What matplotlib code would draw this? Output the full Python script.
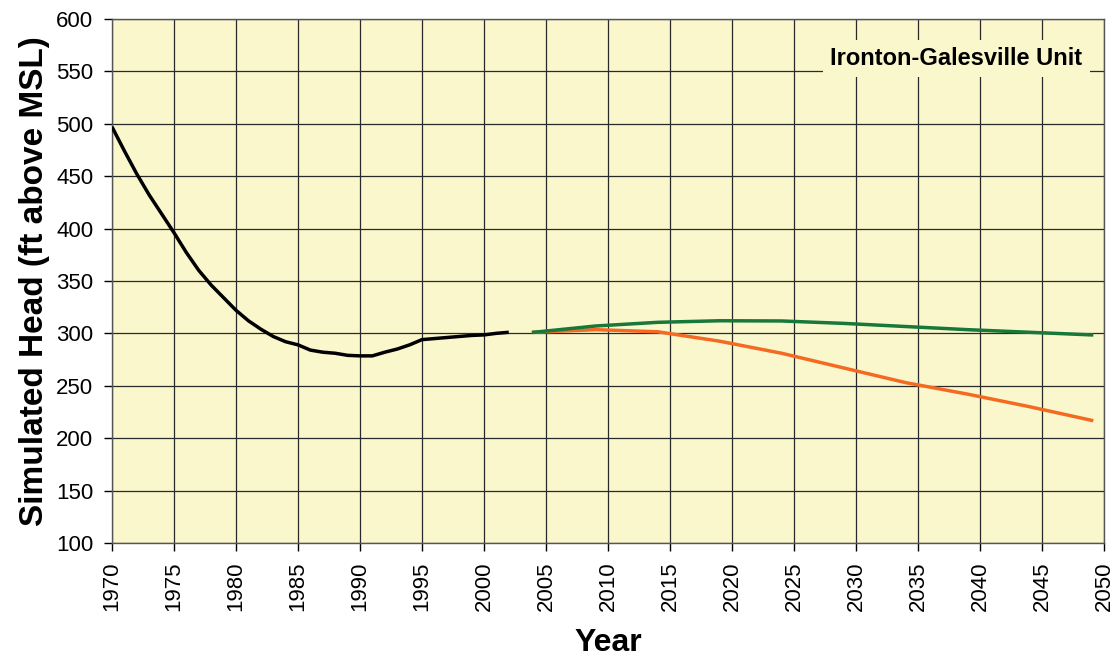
import matplotlib
matplotlib.use("Agg")
import matplotlib.pyplot as plt

plt.rcParams['font.family'] = ['Liberation Sans', 'DejaVu Sans']

# Historical simulated head, annual
hist_years = list(range(1970, 2003))
hist_head = [497, 474, 452, 432, 414, 396, 377, 360, 346, 334, 322, 312, 304,
             297, 292, 289, 284, 282, 281, 279, 278.5, 278.5, 282, 285, 289,
             294, 295, 296, 297, 298, 298.5, 300, 301]

# Projected scenarios, 5-year steps
proj_years = [2004, 2009, 2014, 2019, 2024, 2029, 2034, 2039, 2044, 2049]
proj_green = [301, 307, 310.5, 312, 311.8, 309.5, 306.5, 303.5, 301, 298.5]
proj_orange = [301, 303.5, 301.5, 292.5, 281, 267, 253, 242, 230, 217]

x_ticks = list(range(1970, 2051, 5))
y_ticks = list(range(100, 601, 50))

fig = plt.figure(figsize=(11.2, 6.66), dpi=100)
ax = fig.add_axes([0.1, 0.1847, 0.8857, 0.787])
ax.set_facecolor('#FAF7CD')

ax.plot(hist_years, hist_head, color='black', lw=2.5, solid_capstyle='butt', zorder=3)
ax.plot(proj_years, proj_orange, color='#F56A22', lw=2.5, zorder=3)
ax.plot(proj_years, proj_green, color='#17783A', lw=2.5, zorder=4)

ax.set_xlim(1970, 2050)
ax.set_ylim(100, 600)
ax.set_xticks(x_ticks)
ax.set_yticks(y_ticks)
ax.set_xticklabels([str(t) for t in x_ticks], rotation=90, fontsize=16)
ax.set_yticklabels([str(t) for t in y_ticks], fontsize=16)
ax.tick_params(direction='out', length=5.5, width=1, colors='black', pad=8)
ax.grid(True, color='#2a2a2a', lw=0.9)
ax.set_axisbelow(True)
for s in ax.spines.values():
    s.set_color('#555555')
    s.set_linewidth(1)

ax.set_xlabel('Year', fontsize=23, fontweight='bold', labelpad=12)
ax.set_ylabel('Simulated Head (ft above MSL)', fontsize=24, fontweight='bold', labelpad=4)

ax.text(2038.1, 561.8, 'Ironton-Galesville Unit', fontsize=17, fontweight='bold',
        ha='center', va='center', zorder=5,
        bbox=dict(boxstyle='square,pad=0.3', facecolor='#FAF7CD', edgecolor='none'))

fig.savefig('out.png', dpi=100)
